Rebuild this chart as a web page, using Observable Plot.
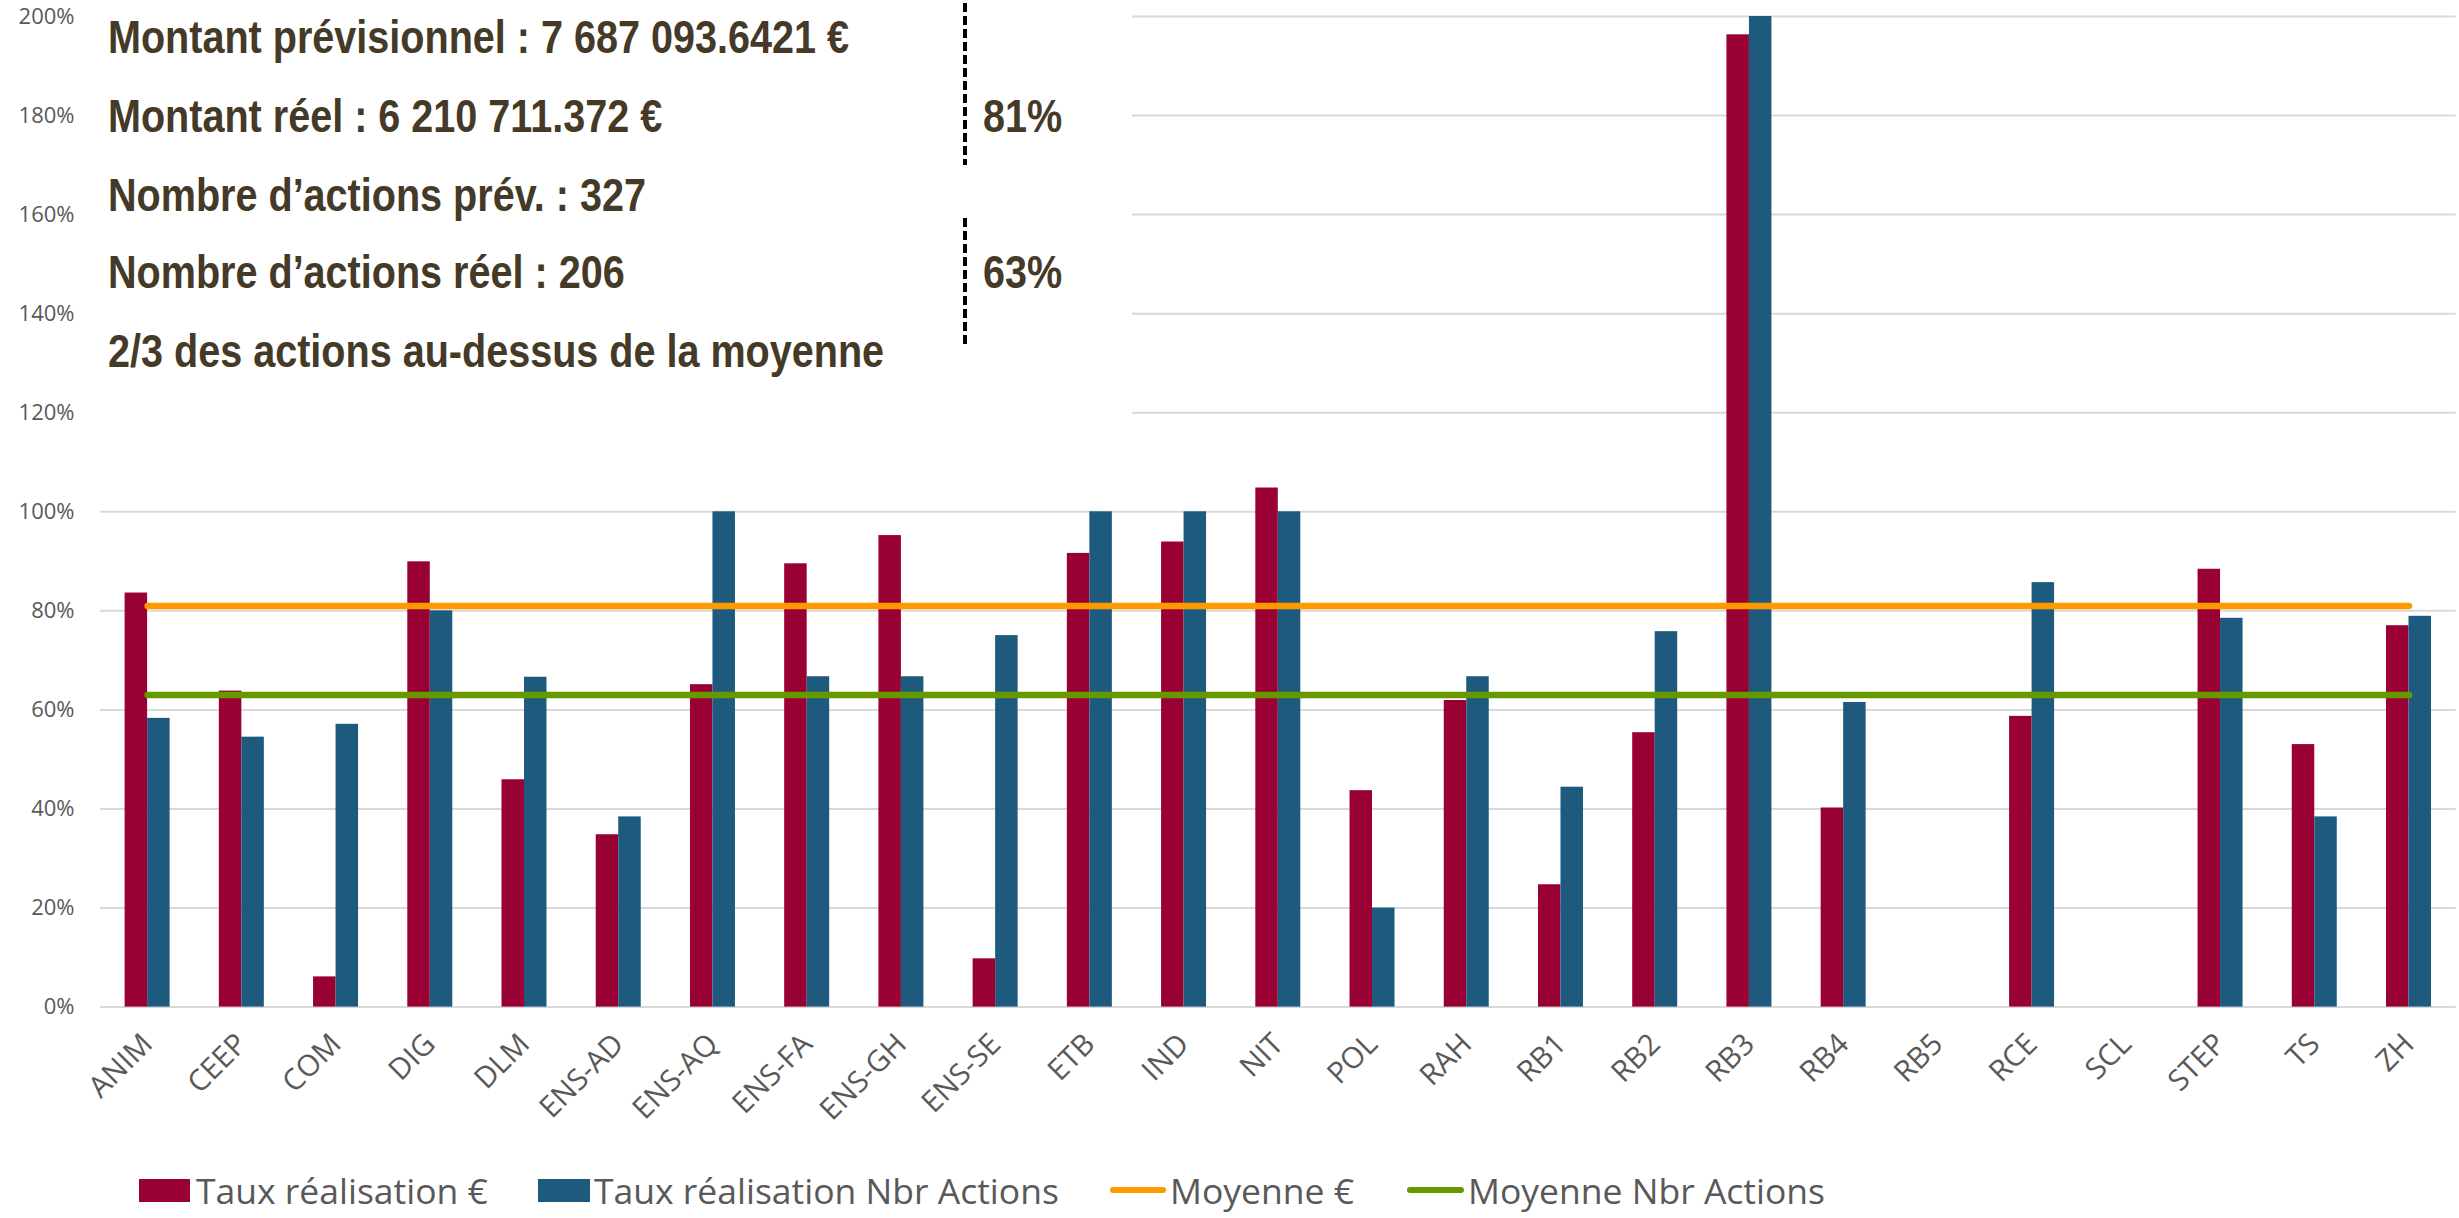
<!DOCTYPE html>
<html>
<head>
<meta charset="utf-8">
<script src="https://cdn.jsdelivr.net/npm/d3@7"></script>
<script src="https://cdn.jsdelivr.net/npm/@observablehq/plot@0.6"></script>
<style>
html,body{margin:0;padding:0;background:#fff;overflow:hidden}
#wrap{position:relative;width:2459px;height:1218px}
#panel{position:absolute;left:82px;top:0;width:1050px;height:432px;background:#fff}
.note{position:absolute;font:bold 46px "Liberation Sans",sans-serif;color:#453a27;white-space:nowrap;line-height:1;transform:scaleX(.86);transform-origin:left top}
.dash{position:absolute;left:963px;width:4px;background:repeating-linear-gradient(to bottom,#000 0 9px,transparent 9px 13px)}
#legend{position:absolute;left:0;top:1150px;width:2459px;height:68px;font:35.5px "Open Sans",sans-serif;color:#595959}
#legend span{position:absolute;top:18px;line-height:44px;white-space:nowrap}
#legend i{position:absolute;display:block}
</style>
</head>
<body>
<div id="wrap"></div>
<script>
const categories = ["ANIM","CEEP","COM","DIG","DLM","ENS-AD","ENS-AQ","ENS-FA","ENS-GH","ENS-SE","ETB","IND","NIT","POL","RAH","RB1","RB2","RB3","RB4","RB5","RCE","SCL","STEP","TS","ZH"];
const tauxEuro = [83.6,63.8,6.1,89.9,45.9,34.8,65.1,89.5,95.2,9.75,91.6,93.9,104.8,43.7,61.9,24.7,55.4,196.3,40.2,null,58.7,null,88.4,53,77];
const tauxActions = [58.3,54.5,57.1,80,66.6,38.4,100,66.7,66.7,75,100,100,100,20,66.7,44.4,75.8,200,61.5,null,85.7,null,78.5,38.4,78.9];
const moyenneEuro = 81;
const moyenneActions = 63;
const yTicks = [0,20,40,60,80,100,120,140,160,180,200];
const noteLines = [
  ["Montant prévisionnel : 7 687 093.6421 €",53],
  ["Montant réel : 6 210 711.372 €",132],
  ["Nombre d’actions prév. : 327",211],
  ["Nombre d’actions réel : 206",288],
  ["2/3 des actions au-dessus de la moyenne",367]
];
const notePct = [["81%",132],["63%",288]];
const RED="#990033", BLUE="#1d5a7e", ORANGE="#ff9900", GREEN="#669900", GREY="#595959";

const idx = categories.map((c,i)=>i);
const barW = 22.5;
const chart = Plot.plot({
  width:2459, height:1150,
  marginLeft:100, marginRight:3.4, marginTop:16, marginBottom:143.4,
  style:{fontFamily:'"Open Sans",sans-serif',fontSize:"22px",background:"transparent",overflow:"visible"},
  x:{domain:categories,paddingInner:0.5225,paddingOuter:0.26125,round:false,label:null},
  y:{domain:[0,200],label:null},
  marks:[
    Plot.ruleY(yTicks,{stroke:"#d9d9d9",strokeWidth:2}),
    Plot.barY(idx.filter(i=>tauxEuro[i]!=null),{x:i=>categories[i],y:i=>tauxEuro[i],fill:RED,insetRight:barW}),
    Plot.barY(idx.filter(i=>tauxActions[i]!=null),{x:i=>categories[i],y:i=>tauxActions[i],fill:BLUE,insetLeft:barW}),
    Plot.line(categories,{x:d=>d,y:()=>moyenneEuro,stroke:ORANGE,strokeWidth:6.5,strokeLinecap:"round"}),
    Plot.line(categories,{x:d=>d,y:()=>moyenneActions,stroke:GREEN,strokeWidth:6.5,strokeLinecap:"round"}),
    Plot.axisY({ticks:yTicks,tickSize:0,tickPadding:26,tickFormat:d=>d+"%",label:null,fill:GREY}),
    Plot.axisX({tickSize:0,tickRotate:-45,tickPadding:32,fontSize:29.5,label:null,fill:GREY})
  ]
});
const wrap=document.getElementById("wrap");
wrap.appendChild(chart);

const panel=document.createElement("div");panel.id="panel";wrap.appendChild(panel);
function note(t,x,b){const d=document.createElement("div");d.className="note";d.textContent=t;d.style.left=x+"px";d.style.top=(b-39)+"px";wrap.appendChild(d);}
noteLines.forEach(([t,b])=>note(t,108,b));
notePct.forEach(([t,b])=>note(t,983,b));
[[3,162],[218,129]].forEach(([t,h])=>{const d=document.createElement("div");d.className="dash";d.style.top=t+"px";d.style.height=h+"px";wrap.appendChild(d);});

const legend=document.createElement("div");legend.id="legend";
const items=[
  {c:RED,label:"Taux réalisation €",x0:139,x1:190,h:23,tx:196},
  {c:BLUE,label:"Taux réalisation Nbr Actions",x0:538,x1:590,h:23,tx:594},
  {c:ORANGE,label:"Moyenne €",x0:1110,x1:1166,h:6,tx:1170,round:true},
  {c:GREEN,label:"Moyenne Nbr Actions",x0:1407,x1:1464,h:6,tx:1468,round:true}
];
items.forEach(o=>{
  const s=document.createElement("i");
  s.style.cssText=`left:${o.x0}px;width:${o.x1-o.x0}px;height:${o.h}px;top:${40-o.h/2}px;background:${o.c};${o.round?"border-radius:3px;":""}`;
  legend.appendChild(s);
  const t=document.createElement("span");t.textContent=o.label;t.style.left=o.tx+"px";legend.appendChild(t);
});
wrap.appendChild(legend);
</script>
</body>
</html>
